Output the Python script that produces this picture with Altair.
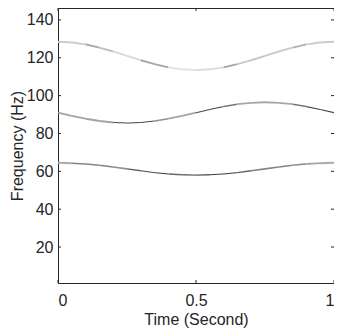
import altair as alt
import pandas as pd

# time samples (s)
time = [0.00, 0.05, 0.10, 0.15, 0.20, 0.25, 0.30, 0.35, 0.40, 0.45, 0.50,
        0.55, 0.60, 0.65, 0.70, 0.75, 0.80, 0.85, 0.90, 0.95, 1.00]

# frequency of the three components (Hz)
f_low = [64.5, 64.3, 63.9, 63.2, 62.3, 61.3, 60.3, 59.3, 58.6, 58.2, 58.0,
         58.2, 58.6, 59.3, 60.3, 61.3, 62.3, 63.2, 63.9, 64.3, 64.5]
f_mid = [91.0, 89.3, 87.8, 86.6, 85.8, 85.5, 85.8, 86.6, 87.8, 89.3, 91.0,
         92.7, 94.2, 95.5, 96.2, 96.5, 96.2, 95.5, 94.2, 92.7, 91.0]
f_high = [128.5, 128.1, 127.1, 125.4, 123.3, 121.0, 118.7, 116.6, 114.9, 113.9, 113.5,
          113.9, 114.9, 116.6, 118.7, 121.0, 123.3, 125.4, 127.1, 128.1, 128.5]

# grey level of each segment (0 = black, 1 = white)
g_low = [0.70, 0.55, 0.55, 0.55, 0.60, 0.40, 0.20, 0.25, 0.45, 0.45,
         0.40, 0.15, 0.15, 0.40, 0.55, 0.55, 0.55, 0.60, 0.68, 0.70]
g_mid = [0.67, 0.67, 0.67, 0.67, 0.30, 0.20, 0.20, 0.60, 0.67, 0.67,
         0.30, 0.25, 0.50, 0.68, 0.68, 0.68, 0.68, 0.50, 0.30, 0.30]
g_high = [0.82, 0.82, 0.68, 0.78, 0.87, 0.87, 0.68, 0.68, 0.90, 0.90,
          0.87, 0.87, 0.68, 0.82, 0.80, 0.82, 0.82, 0.72, 0.82, 0.82]

x_ticks = [0, 0.5, 1]
y_ticks = [20, 40, 60, 80, 100, 120, 140]

rows = []
for name, f, g in [("low", f_low, g_low), ("mid", f_mid, g_mid), ("high", f_high, g_high)]:
    for i in range(len(time) - 1):
        rows.append({"curve": name, "t": time[i], "t2": time[i + 1],
                     "f": f[i], "f2": f[i + 1], "grey": g[i]})
seg = pd.DataFrame(rows)

W, H = 276, 275
FONT = "Liberation Sans"
INK = "#262626"

xs = alt.Scale(domain=[0, 1], nice=False, zero=False)
ys = alt.Scale(domain=[1, 146.3], nice=False, zero=False)

lines = alt.Chart(seg).mark_rule(strokeCap="butt").encode(
    x=alt.X("t:Q", scale=xs,
            axis=alt.Axis(values=x_ticks, title="Time (Second)", grid=False,
                          ticks=False, tickSize=0, labelPadding=9, titlePadding=3,
                          labelExpr="datum.value == 0.5 ? '0.5' : format(datum.value, 'd')")),
    x2="t2:Q",
    y=alt.Y("f:Q", scale=ys,
            axis=alt.Axis(values=y_ticks, title="Frequency (Hz)", grid=False,
                          ticks=False, tickSize=0, labelPadding=5, titlePadding=1)),
    y2="f2:Q",
    color=alt.Color("grey:Q", scale=alt.Scale(domain=[0, 1], range=["#000000", "#ffffff"]), legend=None),
    size=alt.Size("grey:Q", scale=alt.Scale(domain=[0.2, 0.7], range=[0.9, 1.9], clamp=True), legend=None),
)

yt = pd.DataFrame({"v": y_ticks})
xt = pd.DataFrame({"v": x_ticks})
tick_l = alt.Chart(yt).mark_rule(color=INK, strokeWidth=1).encode(
    y=alt.Y("v:Q", scale=ys), x=alt.value(0), x2=alt.value(3))
tick_r = alt.Chart(yt).mark_rule(color=INK, strokeWidth=1).encode(
    y=alt.Y("v:Q", scale=ys), x=alt.value(W), x2=alt.value(W - 3))
tick_b = alt.Chart(xt).mark_rule(color=INK, strokeWidth=1).encode(
    x=alt.X("v:Q", scale=xs), y=alt.value(H), y2=alt.value(H - 3))
tick_t = alt.Chart(xt).mark_rule(color=INK, strokeWidth=1).encode(
    x=alt.X("v:Q", scale=xs), y=alt.value(0), y2=alt.value(3))

chart = alt.layer(lines, tick_l, tick_r, tick_b, tick_t).properties(
    width=W, height=H,
    autosize=alt.AutoSizeParams(type="none"),
    padding={"left": 50, "top": 0, "right": 0, "bottom": 45},
    background="white",
).configure_view(stroke=INK, strokeWidth=1).configure_axis(
    domainColor=INK, labelColor=INK, titleColor=INK,
    labelFont=FONT, titleFont=FONT, labelFontSize=16, titleFontSize=16,
    titleFontWeight="normal",
)

chart.save("out.html", embed_options={"renderer": "svg", "actions": False})
